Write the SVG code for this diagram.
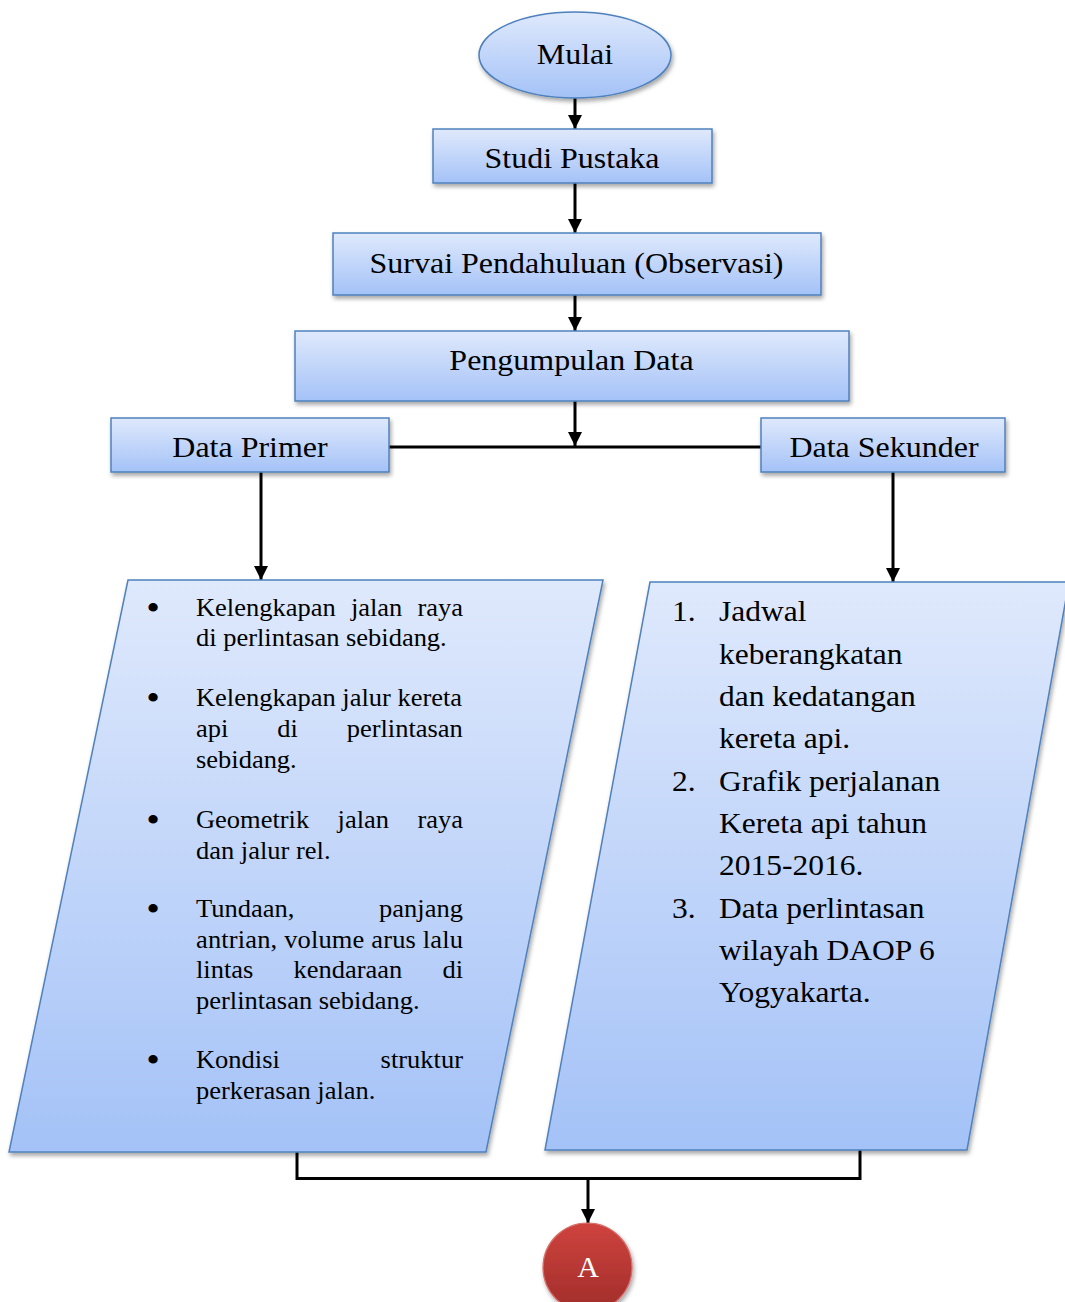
<svg xmlns="http://www.w3.org/2000/svg" width="1065" height="1302" viewBox="0 0 1065 1302">
<defs>
<linearGradient id="gBlue" x1="0" y1="0" x2="0" y2="1">
<stop offset="0" stop-color="#dfe9fc"/>
<stop offset="1" stop-color="#a4c2f7"/>
</linearGradient>
<linearGradient id="gRed" x1="0" y1="0" x2="0" y2="1">
<stop offset="0" stop-color="#cf433e"/>
<stop offset="1" stop-color="#a02d2a"/>
</linearGradient>
<filter id="sh" x="-10%" y="-10%" width="125%" height="130%">
<feDropShadow dx="1.5" dy="3" stdDeviation="2" flood-color="#000" flood-opacity="0.35"/>
</filter>
<marker id="arr" markerUnits="userSpaceOnUse" markerWidth="14" markerHeight="14" refX="14" refY="7" orient="auto">
<path d="M0,0 L14,7 L0,14 z" fill="#000"/>
</marker>
<style>
.box{fill:url(#gBlue);stroke:#4f81bd;stroke-width:1.5;filter:url(#sh)}
.red{fill:url(#gRed);stroke:#d7706d;stroke-width:1.2;filter:url(#sh)}
.t{font-family:"Liberation Serif","Times New Roman",serif;font-size:30px;fill:#000;text-anchor:middle}
.l{font-family:"Liberation Serif","Times New Roman",serif;font-size:24.5px;fill:#000}
.b{font-family:"Liberation Serif","Times New Roman",serif;font-size:36px;fill:#000;text-anchor:middle}
.r{font-family:"Liberation Serif","Times New Roman",serif;font-size:30px;fill:#000}
.c{stroke:#000;stroke-width:3;fill:none}
</style>
</defs>

<g id="connectors">
<line class="c" x1="575" y1="98" x2="575" y2="129" marker-end="url(#arr)"/>
<line class="c" x1="575" y1="183" x2="575" y2="233" marker-end="url(#arr)"/>
<line class="c" x1="575" y1="295" x2="575" y2="331" marker-end="url(#arr)"/>
<line class="c" x1="575" y1="401" x2="575" y2="446" marker-end="url(#arr)"/>
<line class="c" x1="389" y1="447" x2="761" y2="447"/>
<line class="c" x1="261" y1="472" x2="261" y2="580" marker-end="url(#arr)"/>
<line class="c" x1="893" y1="472" x2="893" y2="582" marker-end="url(#arr)"/>
<path class="c" d="M297,1152 V1178.5 H860 V1150"/>
<line class="c" x1="588" y1="1178" x2="588" y2="1223" marker-end="url(#arr)"/>
</g>

<g id="mulai">
<ellipse class="box" cx="575" cy="55" rx="96" ry="43"/>
<text class="t" transform="scale(1.0667 1)" x="539.06" y="64">Mulai</text>
</g>

<g id="studi-pustaka">
<rect class="box" x="433" y="129" width="279" height="54"/>
<text class="t" transform="scale(1.0667 1)" x="536.25" y="168">Studi Pustaka</text>
</g>

<g id="survai">
<rect class="box" x="333" y="233" width="488" height="62"/>
<text class="t" transform="scale(1.0667 1)" x="540.47" y="273">Survai Pendahuluan (Observasi)</text>
</g>

<g id="pengumpulan">
<rect class="box" x="295" y="331" width="554" height="70"/>
<text class="t" transform="scale(1.0667 1)" x="535.78" y="370">Pengumpulan Data</text>
</g>

<g id="data-primer">
<rect class="box" x="111" y="418" width="278" height="54"/>
<text class="t" transform="scale(1.0667 1)" x="234.38" y="457">Data Primer</text>
</g>

<g id="data-sekunder">
<rect class="box" x="761" y="418" width="244" height="54"/>
<text class="t" transform="scale(1.0667 1)" x="828.75" y="457">Data Sekunder</text>
</g>

<g id="list-primer">
<polygon class="box" points="128,580 603,580 486,1152 9,1152"/>
<g transform="scale(1.0816 1)">
<text class="b" x="141.46" y="620">•</text>
<text class="l" y="616"><tspan x="181.21">Kelengkapan</tspan><tspan x="324.43">jalan</tspan><tspan x="385.91">raya</tspan></text>
<text class="l" x="181.21" y="646">di perlintasan sebidang.</text>

<text class="b" x="141.46" y="710">•</text>
<text class="l" x="181.21" y="706">Kelengkapan jalur kereta</text>
<text class="l" y="737"><tspan x="181.21">api</tspan><tspan x="256.33">di</tspan><tspan x="320.54">perlintasan</tspan></text>
<text class="l" x="181.21" y="768">sebidang.</text>

<text class="b" x="141.46" y="832">•</text>
<text class="l" y="828"><tspan x="181.21">Geometrik</tspan><tspan x="312.13">jalan</tspan><tspan x="385.91">raya</tspan></text>
<text class="l" x="181.21" y="859">dan jalur rel.</text>

<text class="b" x="141.46" y="921">•</text>
<text class="l" y="917"><tspan x="181.21">Tundaan,</tspan><tspan x="350.50">panjang</tspan></text>
<text class="l" x="181.21" y="948" textLength="246.9" lengthAdjust="spacing">antrian, volume arus lalu</text>
<text class="l" y="978"><tspan x="181.21">lintas</tspan><tspan x="271.36">kendaraan</tspan><tspan x="409.02">di</tspan></text>
<text class="l" x="181.21" y="1009">perlintasan sebidang.</text>

<text class="b" x="141.46" y="1072">•</text>
<text class="l" y="1068"><tspan x="181.21">Kondisi</tspan><tspan x="351.89">struktur</tspan></text>
<text class="l" x="181.21" y="1099">perkerasan jalan.</text>
</g>
</g>

<g id="list-sekunder">
<polygon class="box" points="650,582 1069,582 967,1150 545,1150"/>
<g transform="scale(1.05 1)">
<text class="r" x="640.0" y="621">1.</text>
<text class="r" x="684.76" y="621">Jadwal</text>
<text class="r" x="684.76" y="664">keberangkatan</text>
<text class="r" x="684.76" y="706">dan kedatangan</text>
<text class="r" x="684.76" y="748">kereta api.</text>
<text class="r" x="640.0" y="791">2.</text>
<text class="r" x="684.76" y="791">Grafik perjalanan</text>
<text class="r" x="684.76" y="833">Kereta api tahun</text>
<text class="r" x="684.76" y="875">2015-2016.</text>
<text class="r" x="640.0" y="918">3.</text>
<text class="r" x="684.76" y="918">Data perlintasan</text>
<text class="r" x="684.76" y="960">wilayah DAOP 6</text>
<text class="r" x="684.76" y="1002">Yogyakarta.</text>
</g>
</g>

<g id="connector-a">
<circle class="red" cx="587.5" cy="1267.5" r="44.5"/>
<text x="588" y="1277" text-anchor="middle" font-family="Liberation Serif, Times New Roman, serif" font-size="30" fill="#fff">A</text>
</g>
</svg>
